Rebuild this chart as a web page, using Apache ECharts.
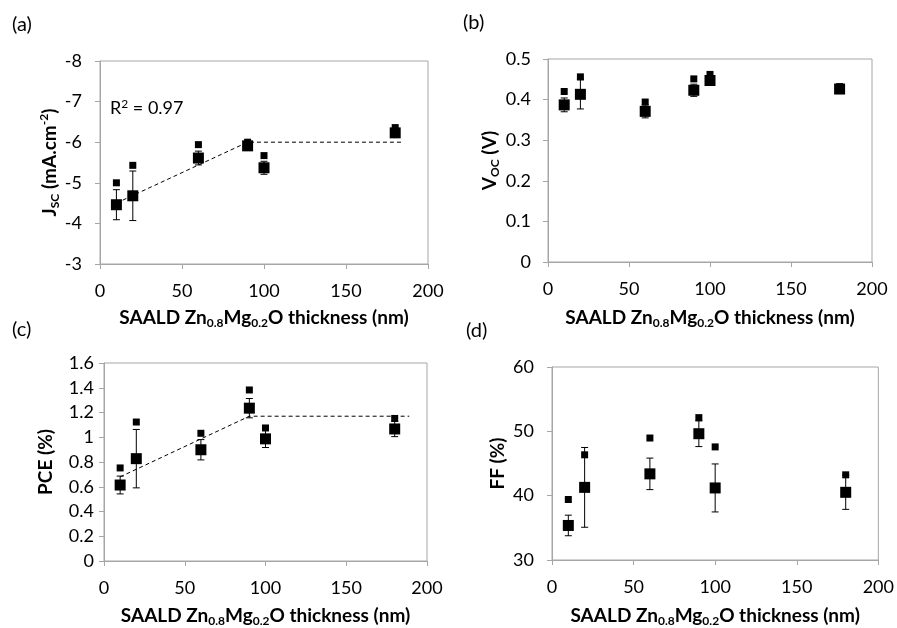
<!DOCTYPE html>
<html>
<head>
<meta charset="utf-8">
<script src="https://cdn.jsdelivr.net/npm/echarts@6/dist/echarts.min.js"></script>
<style>html,body{margin:0;padding:0;background:#fff}#c{width:897px;height:628px}</style>
</head>
<body>
<div id="c"></div>
<script>
// ---- data ----
const thickness = [10, 20, 60, 90, 100, 180];

const jscMean = [-4.46, -4.68, -5.61, -5.91, -5.37, -6.23];
const jscBest = [-5.00, -5.43, -5.94, -6.00, -5.67, -6.36];
const jscErr  = [0.37, 0.61, 0.17, 0.05, 0.16, 0.05];
const jscTrendX = [10, 90, 184];
const jscTrendY = [-4.5, -6.0, -6.0];

const vocMean = [0.387, 0.413, 0.371, 0.423, 0.447, 0.426];
const vocBest = [0.420, 0.456, 0.394, 0.451, 0.462, 0.432];
const vocErr  = [0.017, 0.036, 0.016, 0.015, 0.010, 0.008];

const pceMean = [0.614, 0.827, 0.899, 1.235, 0.987, 1.067];
const pceBest = [0.752, 1.123, 1.032, 1.382, 1.075, 1.152];
const pceErr  = [0.072, 0.236, 0.082, 0.078, 0.070, 0.062];
const pceTrendX = [10, 90, 189];
const pceTrendY = [0.68, 1.17, 1.17];

const ffMean = [35.37, 41.29, 43.39, 49.63, 41.20, 40.52];
const ffBest = [39.40, 46.35, 48.96, 52.13, 47.58, 43.24];
const ffErr  = [1.60, 6.20, 2.45, 2.00, 3.73, 2.65];

// axis ranges: [min, max, interval]
const xRange   = [0, 200, 50];
const jscRange = [-8, -3, 1];
const vocRange = [0, 0.5, 0.1];
const pceRange = [0, 1.6, 0.2];
const ffRange  = [30, 60, 10];

const panelLabels = ['(a)', '(b)', '(c)', '(d)'];
const xTitle = 'SAALD Zn{s|0.8}Mg{s|0.2}O thickness (nm)';
const yTitles = ['J{s|SC} (mA.cm{p|-2})', 'V{s|OC} (V)', 'PCE (%)', 'FF (%)'];
const r2Text = 'R{p|2} = 0.97';

// ---- styling helpers ----
const FONT = 'Lato, "Open Sans", sans-serif';
const AX = '#a6a6a6';

function titleStyle() {
  return {
    fontFamily: FONT, fontWeight: 'bold', fontSize: 19, color: '#000', lineHeight: 23,
    rich: {
      s: {fontFamily: FONT, fontWeight: 'bold', fontSize: 12, color: '#000', lineHeight: 12, verticalAlign: 'bottom'},
      p: {fontFamily: FONT, fontWeight: 'bold', fontSize: 12, color: '#000', lineHeight: 12, verticalAlign: 'top'}
    }
  };
}

function xAxis(gi, nameGap) {
  return {
    type: 'value', gridIndex: gi, min: xRange[0], max: xRange[1], interval: xRange[2],
    name: xTitle, nameLocation: 'middle', nameGap: nameGap, nameTextStyle: titleStyle(),
    axisLine: {show: true, onZero: false, lineStyle: {color: AX, width: 1}},
    axisTick: {show: true, length: 5, lineStyle: {color: AX}},
    axisLabel: {margin: 18, color: '#000', fontSize: 18, fontFamily: FONT},
    splitLine: {show: false}
  };
}
function yAxis(gi, range, title, nameGap, labelMargin, inverse) {
  return {
    type: 'value', gridIndex: gi, min: range[0], max: range[1], interval: range[2], inverse: !!inverse,
    name: title, nameLocation: 'middle', nameGap: nameGap, nameRotate: 90, nameTextStyle: titleStyle(),
    axisLine: {show: true, onZero: false, lineStyle: {color: AX, width: 1}},
    axisTick: {show: true, length: 5, lineStyle: {color: AX}},
    axisLabel: {margin: labelMargin, color: '#000', fontSize: 18, fontFamily: FONT},
    splitLine: {show: false}
  };
}
function zip(xs, ys) { return xs.map((x, i) => [x, ys[i]]); }

function errSeries(gi, mean, err) {
  return {
    type: 'custom', xAxisIndex: gi, yAxisIndex: gi, z: 3, silent: true,
    data: thickness.map((x, i) => [x, mean[i] - err[i], mean[i] + err[i]]),
    renderItem: function (params, api) {
      const lo = api.coord([api.value(0), api.value(1)]);
      const hi = api.coord([api.value(0), api.value(2)]);
      const w = 3.5;
      const st = {stroke: '#000', lineWidth: 1};
      return {type: 'group', children: [
        {type: 'line', shape: {x1: lo[0], y1: lo[1], x2: hi[0], y2: hi[1]}, style: st},
        {type: 'line', shape: {x1: lo[0] - w, y1: lo[1], x2: lo[0] + w, y2: lo[1]}, style: st},
        {type: 'line', shape: {x1: hi[0] - w, y1: hi[1], x2: hi[0] + w, y2: hi[1]}, style: st}
      ]};
    }
  };
}
function scat(gi, ys, size) {
  return {type: 'scatter', xAxisIndex: gi, yAxisIndex: gi, symbol: 'rect', symbolSize: size, z: 5,
    itemStyle: {color: '#000', opacity: 1}, data: zip(thickness, ys), silent: true};
}
function trend(gi, xs, ys) {
  return {type: 'line', xAxisIndex: gi, yAxisIndex: gi, z: 2, symbol: 'none', silent: true,
    lineStyle: {color: '#000', width: 1, type: [4, 3]}, data: zip(xs, ys)};
}

const grids = [
  {left: 100, top: 61, width: 328, height: 203},
  {left: 548, top: 59, width: 324, height: 203},
  {left: 104, top: 363, width: 323, height: 200},
  {left: 552, top: 367, width: 327, height: 195}
].map(g => Object.assign(g, {show: true, borderColor: AX, borderWidth: 1, backgroundColor: 'transparent'}));

const labelPos = [[12, 27], [463, 25], [12, 332], [466, 333]];

const chart = echarts.init(document.getElementById('c'), null, {renderer: 'canvas'});
chart.setOption({
  animation: false,
  backgroundColor: '#fff',
  grid: grids,
  xAxis: [xAxis(0, 42), xAxis(1, 44), xAxis(2, 43), xAxis(3, 44)],
  yAxis: [
    yAxis(0, jscRange, yTitles[0], 38, 18, true),
    yAxis(1, vocRange, yTitles[1], 47, 17, false),
    yAxis(2, pceRange, yTitles[2], 47, 10, false),
    yAxis(3, ffRange, yTitles[3], 43, 18, false)
  ],
  graphic: labelPos.map((p, i) => ({
    type: 'text', left: p[0], top: p[1] - 12,
    style: {text: panelLabels[i], font: '20px ' + FONT, fill: '#000'}
  })).concat([{
    type: 'text', left: 110, top: 98,
    style: {text: r2Text, fontFamily: FONT, fontSize: 18, fill: '#000', lineHeight: 21,
      rich: {p: {fontFamily: FONT, fontSize: 12, fill: '#000', lineHeight: 10, verticalAlign: 'top'}}}
  }]),
  series: [
    trend(0, jscTrendX, jscTrendY),
    errSeries(0, jscMean, jscErr), scat(0, jscBest, 7), scat(0, jscMean, 11),
    errSeries(1, vocMean, vocErr), scat(1, vocBest, 7), scat(1, vocMean, 11),
    trend(2, pceTrendX, pceTrendY),
    errSeries(2, pceMean, pceErr), scat(2, pceBest, 7), scat(2, pceMean, 11),
    errSeries(3, ffMean, ffErr), scat(3, ffBest, 7), scat(3, ffMean, 11)
  ]
});
</script>
</body>
</html>
